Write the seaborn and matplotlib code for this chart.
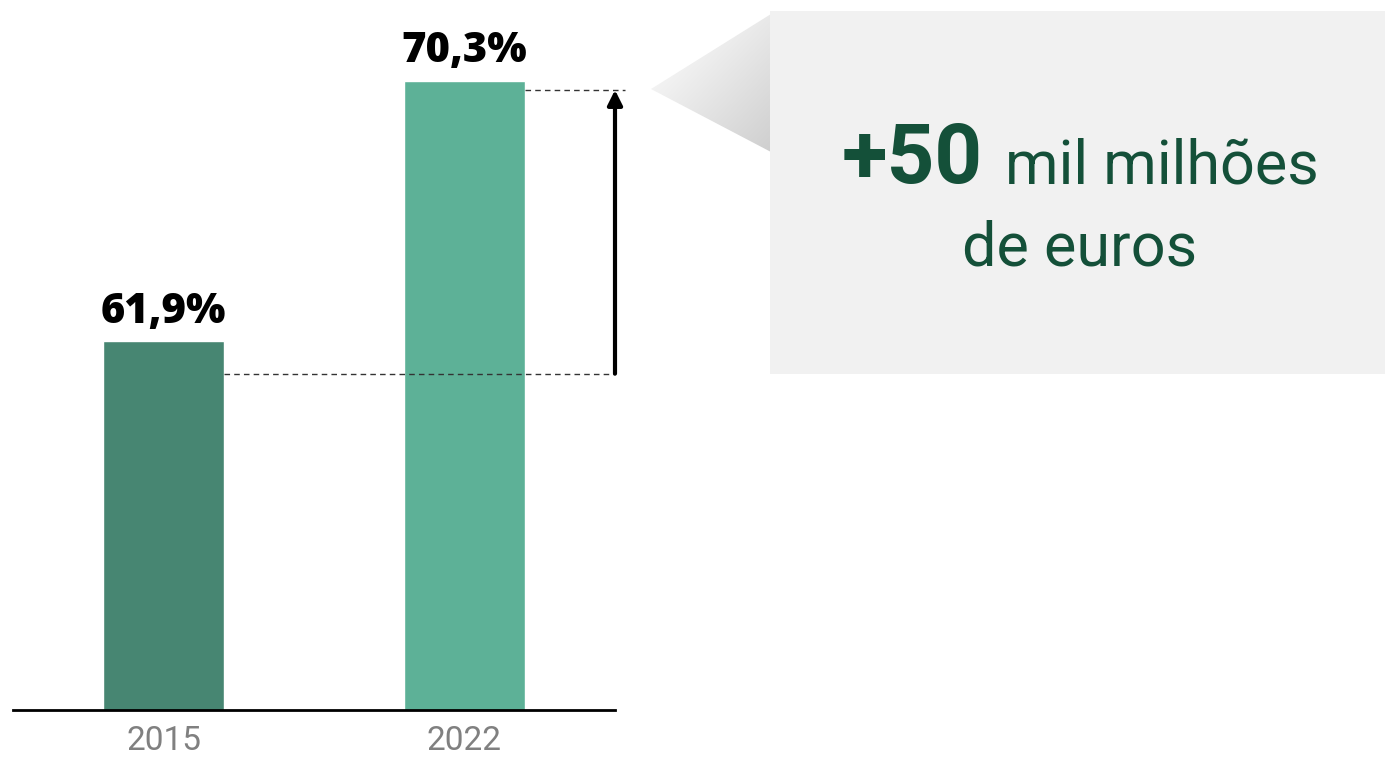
import numpy as np
import pandas as pd
import matplotlib
matplotlib.use("Agg")
import matplotlib.pyplot as plt
import seaborn as sns
from matplotlib.patches import Polygon, Rectangle

# data
years = ["2015", "2022"]
shares = [61.9, 70.3]
bar_colors = ["#478672", "#5db197"]
share_labels = ["61,9%", "70,3%"]
gap_levels = [60.85, 70.0]   # dashed guide levels for the arrow
callout_big = "+50"
callout_rest = "mil milhões"
callout_line2 = "de euros"

sns.set_theme(style="white")
plt.rcParams["font.family"] = ["Roboto", "DejaVu Sans"]

df = pd.DataFrame({"year": years, "share": shares})

W, H = 1385, 757
fig = plt.figure(figsize=(W / 100, H / 100), dpi=100)
ax = fig.add_axes([13 / W, (H - 710) / H, 602 / W, 710 / H])

sns.barplot(data=df, x="year", y="share", hue="year", palette=bar_colors,
            width=0.4, legend=False, saturation=1, ax=ax)

ax.set_xlim(-0.5, 1.5)
ax.set_ylim(50, 50 + 710 / 31.0)
ax.set_xlabel("")
ax.set_ylabel("")
ax.set_yticks([])
sns.despine(ax=ax, left=True, top=True, right=True)
ax.spines["bottom"].set_color("black")
ax.spines["bottom"].set_linewidth(2)
ax.tick_params(axis="x", length=0, pad=11, labelsize=24, labelcolor="#808080")

for cont, lab in zip(ax.containers, share_labels):
    ax.bar_label(cont, labels=[lab], padding=6, fontsize=30, fontweight="heavy",
                 color="black", family="Open Sans")

# dashed guides and arrow
ax.plot([0.2, 1.5], [gap_levels[0]] * 2, ls=(0, (4, 3)), lw=1, color="#333333",
        clip_on=False, zorder=5)
ax.plot([1.2, 1.533], [gap_levels[1]] * 2, ls=(0, (4, 3)), lw=1, color="#333333",
        clip_on=False, zorder=5)
ax.annotate("", xy=(1.5, gap_levels[1]), xytext=(1.5, gap_levels[0]),
            arrowprops=dict(arrowstyle="-|>", lw=3, color="black", mutation_scale=22,
                            shrinkA=0, shrinkB=0),
            annotation_clip=False, zorder=6)

# callout overlay in pixel coordinates
ov = fig.add_axes([0, 0, 1, 1], zorder=-1)
ov.set_xlim(0, W)
ov.set_ylim(H, 0)
ov.axis("off")
ov.patch.set_alpha(0)

ov.add_patch(Rectangle((770, 11), 615, 363, facecolor="#f1f1f1", edgecolor="none"))
tri = Polygon([(651, 89), (771, 14), (771, 152)], closed=True, facecolor="none",
              edgecolor="none")
ov.add_patch(tri)
gx, gy = np.meshgrid(np.linspace(0, 1, 120), np.linspace(0, 1, 140))
grad = np.clip(0.55 * gx + 0.6 * gy - 0.35, 0, 1)
img = ov.imshow(grad, extent=(651, 771, 152, 14), cmap=matplotlib.colors.LinearSegmentedColormap.from_list(
    "g", ["#f2f2f2", "#c6c6c6"]), vmin=0, vmax=1, aspect="auto", interpolation="bilinear")
img.set_clip_path(tri)

green = "#145039"
ov.text(842, 183, callout_big, fontsize=60, fontweight="bold", color=green,
        ha="left", va="baseline")
ov.text(1005, 183, callout_rest, fontsize=44, color=green, ha="left", va="baseline")
ov.text(1080, 266, callout_line2, fontsize=44, color=green, ha="center", va="baseline")

fig.savefig("out.png", dpi=100)
